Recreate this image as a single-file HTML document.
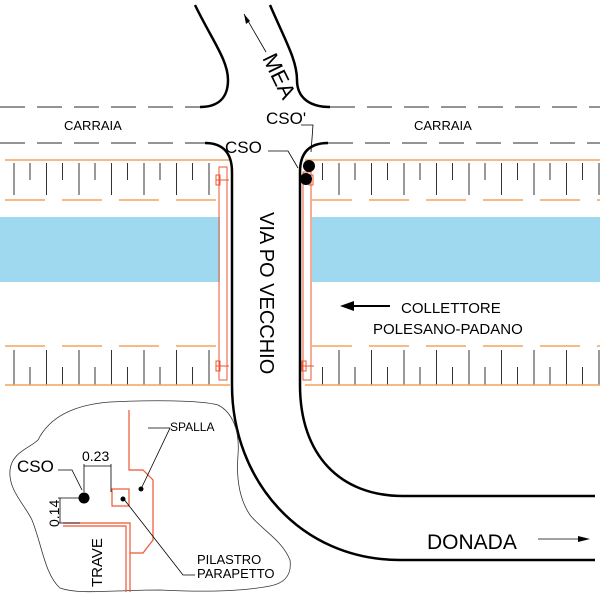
<!DOCTYPE html>
<html><head><meta charset="utf-8"><style>body{margin:0;background:#fff}svg{display:block}text{font-family:"Liberation Sans",sans-serif;fill:#000}</style></head>
<body>
<svg width="600" height="600" viewBox="0 0 600 600" xmlns="http://www.w3.org/2000/svg">
<defs>
<pattern id="tt" x="0" y="0" width="32.5" height="600" patternUnits="userSpaceOnUse">
<line x1="14" y1="163" x2="14" y2="195" stroke="#333" stroke-width="1"/>
<line x1="30" y1="163" x2="30" y2="180" stroke="#333" stroke-width="1"/>
<line x1="14" y1="350" x2="14" y2="385" stroke="#333" stroke-width="1"/>
<line x1="30" y1="367" x2="30" y2="385" stroke="#333" stroke-width="1"/>
</pattern>
</defs>
<rect x="0" y="217" width="220" height="65" fill="#9ed9f0"/>
<rect x="312" y="217" width="288" height="65" fill="#9ed9f0"/>
<rect x="0" y="160" width="214" height="230" fill="url(#tt)"/>
<rect x="318" y="160" width="282" height="230" fill="url(#tt)"/>
<g stroke="#f5a35a" stroke-width="1.5" fill="none">
<line x1="5" y1="160" x2="230" y2="160"/><line x1="305" y1="160" x2="600" y2="160"/>
<line x1="5" y1="200" x2="218" y2="200" stroke-dasharray="40,17"/><line x1="312" y1="200" x2="600" y2="200" stroke-dasharray="40,17"/>
<line x1="5" y1="346" x2="218" y2="346" stroke-dasharray="40,17"/><line x1="312" y1="346" x2="600" y2="346" stroke-dasharray="40,17"/>
<line x1="5" y1="385" x2="230" y2="385"/><line x1="305" y1="385" x2="600" y2="385"/>
</g>
<g stroke="#555" stroke-width="1.3">
<line x1="0" y1="107" x2="200" y2="107" stroke-dasharray="25,12"/>
<line x1="330" y1="107" x2="600" y2="107" stroke-dasharray="25,12"/>
<line x1="0" y1="143" x2="205" y2="143" stroke-dasharray="25,12"/>
<line x1="328" y1="143" x2="600" y2="143" stroke-dasharray="25,12"/>
</g>
<g stroke="#ee5533" stroke-width="1" fill="none">
<rect x="219" y="167" width="8" height="213"/>
<rect x="303" y="172" width="8" height="208"/>
<rect x="216" y="175" width="4" height="10"/><line x1="216" y1="180" x2="229" y2="180"/>
<rect x="216" y="361" width="4" height="10"/><line x1="216" y1="366" x2="229" y2="366"/>
<rect x="309" y="175" width="4" height="10"/>
<rect x="302" y="361" width="4" height="10"/><line x1="301" y1="366" x2="314" y2="366"/>
</g>
<g stroke="#000" stroke-width="2.5" fill="none">
<path d="M195 5 C212 40 228 60 228 80 C228 98 218 107 200 107"/>
<path d="M270 5 C285 40 297 60 297 80 C297 98 310 107 330 107"/>
<path d="M205 143 C222 143 232 152 232 172 L232 385 C232 480 300 560 400 560 L595 560"/>
<path d="M328 143 C310 143 300 152 300 172 L300 385 C300 455 340 496 403 496 L595 496"/>
</g>
<line x1="244" y1="14" x2="266" y2="52" stroke="#000" stroke-width="0.8"/>
<polygon points="244,14 246,24 250,21" fill="#000"/>
<text x="262" y="58" font-size="22" transform="rotate(64 262 58)">MEA</text>
<text x="266" y="124" font-size="17">CSO'</text>
<polyline points="301,125 313,125 311,152" fill="none" stroke="#000" stroke-width="0.8"/>
<text x="225" y="153" font-size="17">CSO</text>
<polyline points="268,151 288,151 298,168" fill="none" stroke="#000" stroke-width="0.8"/>
<circle cx="309" cy="166" r="6" fill="#000"/>
<circle cx="306" cy="179" r="6" fill="#000"/>
<text x="64" y="130" font-size="13">CARRAIA</text>
<text x="414" y="130" font-size="13">CARRAIA</text>
<text x="0" y="0" font-size="20" transform="translate(260 212) rotate(90)">VIA PO VECCHIO</text>
<line x1="390" y1="306" x2="350" y2="306" stroke="#000" stroke-width="2"/>
<polygon points="340,306 354,301 354,311" fill="#000"/>
<text x="401" y="313" font-size="15">COLLETTORE</text>
<text x="373" y="334" font-size="15">POLESANO-PADANO</text>
<text x="427" y="549" font-size="21">DONADA</text>
<line x1="538" y1="539" x2="580" y2="539" stroke="#000" stroke-width="0.8"/>
<polygon points="590,539 578,536 578,542" fill="#000"/>
<path d="M10 470 C12 452 30 448 38 440 C48 420 70 405 110 402 C150 400 200 400 218 405 C232 412 240 430 238 455 C236 480 240 500 250 515 C262 530 282 540 290 560 C292 575 285 583 270 586 C240 592 200 592 160 590 C110 590 80 595 60 588 C45 575 42 545 32 520 C25 505 8 490 10 470 Z" fill="#fff" stroke="#333" stroke-width="0.8"/>
<g stroke="#ee5533" stroke-width="1.2" fill="none">
<polyline points="129,410 129,470 143,470 153,480 153,540 143,553 130,553 130,523 63,523"/>
<polyline points="130,553 130,592"/>
<polyline points="63,526 126,526 126,592"/>
<rect x="112" y="489" width="17" height="17"/>
</g>
<g stroke="#000" stroke-width="0.8" fill="none">
<line x1="84" y1="464" x2="84" y2="492"/>
<line x1="111" y1="464" x2="111" y2="492"/>
<line x1="84" y1="466" x2="111" y2="466"/>
<line x1="58" y1="498" x2="80" y2="498"/>
<line x1="58" y1="523" x2="80" y2="523"/>
<line x1="60" y1="498" x2="60" y2="523"/>
<polyline points="58,470 72,470 82,490"/>
<polyline points="148,428 170,428 141,489"/>
<polyline points="123,498 183,575 195,575"/>
</g>
<circle cx="84" cy="498" r="5.5" fill="#000"/>
<circle cx="123" cy="499" r="2.5" fill="#000"/>
<circle cx="141" cy="489" r="2.5" fill="#000"/>
<text x="17" y="472" font-size="17">CSO</text>
<text x="82" y="461" font-size="14">0.23</text>
<text x="0" y="0" font-size="14" transform="translate(59 527) rotate(-90)">0.14</text>
<text x="170" y="431" font-size="12">SPALLA</text>
<text x="197" y="564" font-size="13">PILASTRO</text>
<text x="197" y="578" font-size="13">PARAPETTO</text>
<text x="0" y="0" font-size="15" transform="translate(102 587) rotate(-90)">TRAVE</text>
</svg>
</body></html>
